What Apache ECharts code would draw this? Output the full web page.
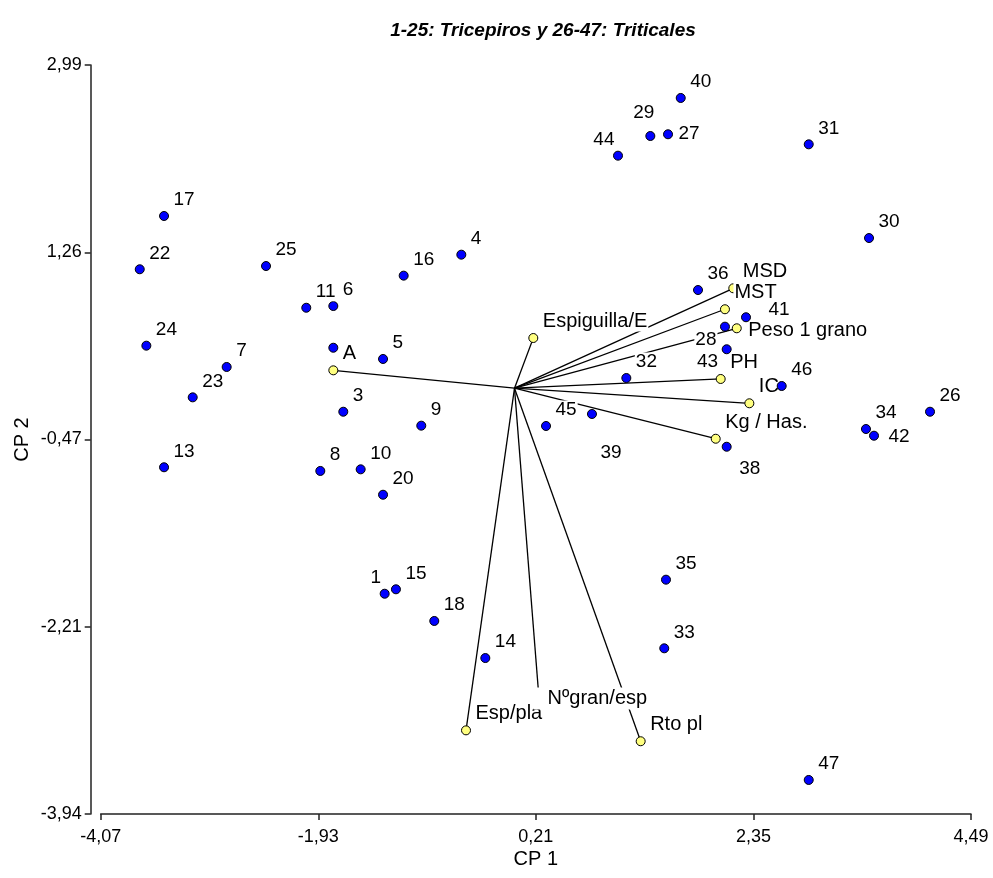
<!DOCTYPE html>
<html>
<head>
<meta charset="utf-8">
<title>Biplot CP 1 - CP 2</title>
<script src="https://cdn.jsdelivr.net/npm/echarts@6/dist/echarts.min.js"></script>
<style>
  html, body { margin: 0; padding: 0; background: #fff; }
  #chart { width: 993px; height: 878px; }
</style>
</head>
<body>
<div id="chart"></div>
<script>
// observaciones: 1-25 tricepiros, 26-47 triticales
const obsNames = ['1', '3', '4', '5', '6', '7', '8', '9', '10', '11', '13', '14', '15', '16', '17', '18', '20', '21', '22', '23', '24', '25', '',
  '26', '27', '28', '29', '30', '31', '32', '33', '34', '35', '36', '38', '39', '40', '41', '42', '43', '44', '45', '46', '47']
const obsX = [-1.277, -1.684, -0.523, -1.293, -1.782, -2.831, -1.910, -0.917, -1.513, -2.048, -3.447, -0.287, -1.166, -1.090, -3.447, -0.789, -1.293, -3.369, -3.686, -3.165, -3.621, -2.444, -1.782,
  4.087, 1.510, 2.070, 1.336, 3.487, 2.894, 1.100, 1.473, 3.457, 1.490, 1.805, 2.087, 0.762, 1.635, 2.277, 3.536, 2.087, 1.018, 0.310, 2.628, 2.894]
const obsY = [-1.902, -0.218, 1.235, 0.270, 0.760, 0.196, -0.766, -0.347, -0.751, 0.744, -0.732, -2.497, -1.861, 1.041, 1.593, -2.154, -0.986, 0.455, 1.100, -0.085, 0.393, 1.130, 0.374,
  -0.218, 2.349, 0.569, 2.333, 1.389, 2.256, 0.094, -2.407, -0.378, -1.772, 0.908, -0.542, -0.239, 2.685, 0.656, -0.440, 0.360, 2.151, -0.350, 0.020, -3.625]

// variables (extremo de cada vector)
const varNames = ['MSD', 'MST', 'Peso 1 grano', 'PH', 'IC', 'Kg / Has.', 'Espiguilla/E', 'Esp/pla', 'Nºgran/esp', 'Rto pl', 'A']
const varX = [2.152, 2.070, 2.186, 2.028, 2.310, 1.979, 0.185, -0.477, 0.2415, 1.241, -1.782]
const varY = [0.924, 0.730, 0.554, 0.085, -0.140, -0.468, 0.464, -3.166, -2.876, -3.267, 0.165]

const xTicks = [-4.07, -1.93, 0.21, 2.35, 4.49]
const xTickLabels = ['-4,07', '-1,93', '0,21', '2,35', '4,49']
const yTicks = [-3.94, -2.2075, -0.475, 1.2575, 2.99]
const yTickLabels = ['-3,94', '-2,21', '-0,47', '1,26', '2,99']

const S = 9 // tamaño del punto
const at = (dx, dy, align, verticalAlign) => ({ position: [dx + S / 2, dy + S / 2], align, verticalAlign })
const place = {
  tr: at(9, -6, 'left', 'bottom'),
  tl: at(-2, -6, 'right', 'bottom'),
  top: at(-6, -13, 'center', 'bottom'),
  r: at(10, 0, 'left', 'middle'),
  r41: at(22, -7, 'left', 'middle'),
  r42: at(14, 2, 'left', 'middle'),
  rPeso: at(11, 3, 'left', 'middle'),
  bl: at(-7, 4, 'right', 'top'),
  br: at(12, 13, 'left', 'top'),
  b39: at(8, 30, 'left', 'top'),
  ng: Object.assign(at(-5, 0, 'left', 'middle'), { padding: [0, 3, 2, 14] })
}
const spot = {
  '1': 'tl', '44': 'tl', '29': 'top', '27': 'r', '41': 'r41', '42': 'r42',
  '28': 'bl', '43': 'bl', '38': 'br', '39': 'b39',
  'Peso 1 grano': 'rPeso', 'Nºgran/esp': 'ng'
}
// en el original el punto 21 queda tapado por la etiqueta del 24
const covered = ['21']
const labelFor = (name) => name === '' ? { show: false } : (place[spot[name]] || place.tr)

const baseLabel = (size) => ({
  show: true,
  formatter: '{b}',
  color: '#000',
  fontFamily: 'Liberation Sans',
  fontSize: size,
  backgroundColor: '#fff',
  padding: [0, 1]
})

const chart = echarts.init(document.getElementById('chart'))
chart.setOption({
  animation: false,
  backgroundColor: '#fff',
  title: {
    text: '1-25: Tricepiros y 26-47: Triticales',
    left: 543,
    top: 21,
    textAlign: 'center',
    padding: 0,
    textStyle: { fontFamily: 'Liberation Sans', fontSize: 19, fontWeight: 'bold', fontStyle: 'italic', color: '#000' }
  },
  grid: { left: 100.7, right: 22, top: 65, bottom: 64, containLabel: false, outerBoundsMode: 'none' },
  xAxis: {
    type: 'value',
    min: -4.07,
    max: 4.49,
    name: 'CP 1',
    nameLocation: 'middle',
    nameGap: 35,
    nameMoveOverlap: false,
    nameTextStyle: { fontFamily: 'Liberation Sans', fontSize: 20, color: '#000' },
    splitLine: { show: false },
    axisLine: { onZero: false, lineStyle: { color: '#222', width: 1.5 } },
    axisTick: { customValues: xTicks, length: 6, lineStyle: { color: '#222', width: 1.5 } },
    axisLabel: {
      customValues: xTicks,
      formatter: (v) => xTickLabels[xTicks.indexOf(v)],
      margin: 14,
      fontFamily: 'Liberation Sans',
      fontSize: 18,
      color: '#000'
    }
  },
  yAxis: {
    type: 'value',
    min: -3.94,
    max: 2.99,
    offset: 10,
    name: 'CP 2',
    nameLocation: 'middle',
    nameGap: 58,
    nameMoveOverlap: false,
    nameTextStyle: { fontFamily: 'Liberation Sans', fontSize: 20, color: '#000' },
    splitLine: { show: false },
    axisLine: { onZero: false, lineStyle: { color: '#222', width: 1.5 } },
    axisTick: { customValues: yTicks, length: 6, lineStyle: { color: '#222', width: 1.5 } },
    axisLabel: {
      customValues: yTicks,
      formatter: (v) => yTickLabels[yTicks.indexOf(v)],
      margin: 9,
      fontFamily: 'Liberation Sans',
      fontSize: 18,
      color: '#000'
    }
  },
  series: [
    {
      type: 'lines',
      coordinateSystem: 'cartesian2d',
      z: 2,
      silent: true,
      lineStyle: { color: '#000', width: 1.3, opacity: 1, curveness: 0 },
      data: varX.map((x, i) => ({ coords: [[0, 0], [x, varY[i]]] }))
    },
    {
      type: 'scatter',
      z: 3,
      symbolSize: S,
      itemStyle: { color: '#ffff80', borderColor: '#000', borderWidth: 1, opacity: 1 },
      label: baseLabel(20),
      emphasis: { disabled: true },
      data: varNames.map((n, i) => ({ name: n, value: [varX[i], varY[i]], label: labelFor(n) }))
    },
    {
      type: 'scatter',
      z: 4,
      symbolSize: S,
      itemStyle: { color: '#0000ff', borderColor: '#000', borderWidth: 1, opacity: 1 },
      label: baseLabel(19),
      emphasis: { disabled: true },
      data: obsNames.map((n, i) => {
        const item = { name: n, value: [obsX[i], obsY[i]], label: labelFor(n) }
        if (covered.includes(n)) item.itemStyle = { opacity: 0 }
        return item
      })
    }
  ]
})
</script>
</body>
</html>
